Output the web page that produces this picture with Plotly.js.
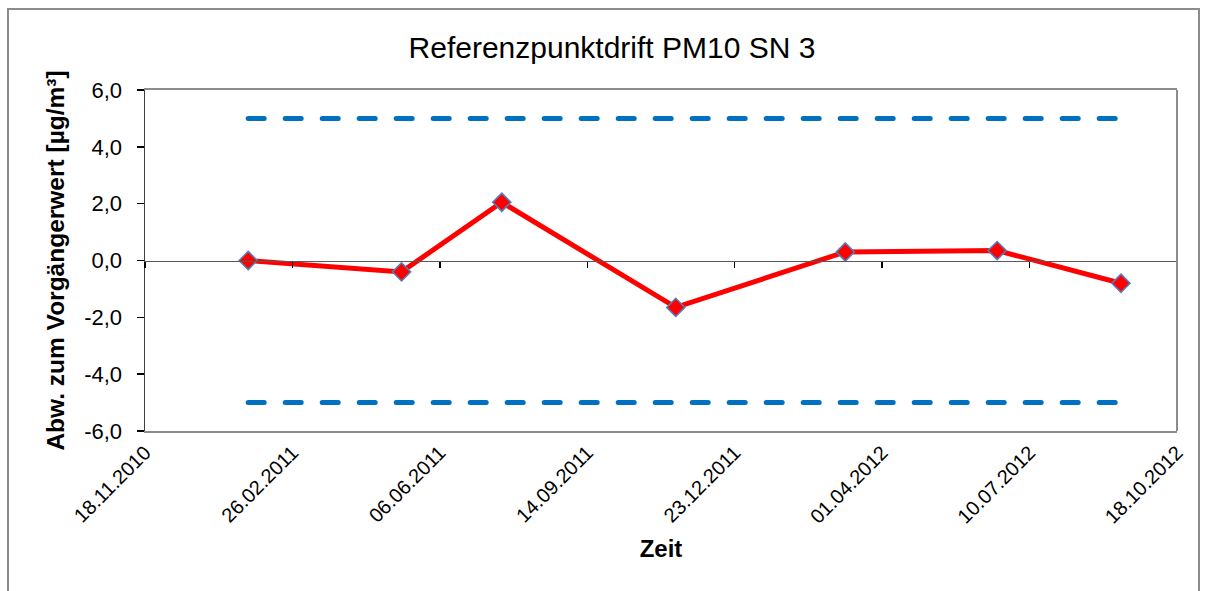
<!DOCTYPE html>
<html>
<head>
<meta charset="utf-8">
<script src="https://cdn.plot.ly/plotly-3.0.1.min.js"></script>
<style>
  html, body { margin: 0; padding: 0; background: #ffffff; }
  #chart { position: absolute; left: 0; top: 0; width: 1208px; height: 591px; }
  #frame { position: absolute; left: 7px; top: 8px; width: 1193px; height: 600px;
           border: 2px solid #8c8c8c; pointer-events: none; box-sizing: border-box; }
  .scatterlayer .js-line { stroke-linecap: round; }
</style>
</head>
<body>
<div id="chart"></div>
<div id="frame"></div>
<script>
// Data
const dates = ['2011-01-27', '2011-05-11', '2011-07-18', '2011-11-13', '2012-03-07', '2012-06-18', '2012-09-10'];
const drift = [0.0, -0.4, 2.05, -1.65, 0.3, 0.35, -0.8];
const upperLimit = [5, 5];
const lowerLimit = [-5, -5];
const limitDates = [dates[0], dates[dates.length - 1]];
const xRange = ['2010-11-18', '2012-10-18'];
const yTicks = [-6, -4, -2, 0, 2, 4, 6];
const yTickLabels = ['-6,0', '-4,0', '-2,0', '0,0', '2,0', '4,0', '6,0'];

const DAY = 86400000;

const traces = [
  {
    x: limitDates, y: upperLimit, type: 'scatter', mode: 'lines',
    line: { color: '#0070C0', width: 5, dash: '16px,21px' },
    hoverinfo: 'skip', showlegend: false
  },
  {
    x: limitDates, y: lowerLimit, type: 'scatter', mode: 'lines',
    line: { color: '#0070C0', width: 5, dash: '16px,21px' },
    hoverinfo: 'skip', showlegend: false
  },
  {
    x: dates, y: drift, type: 'scatter', mode: 'lines+markers',
    line: { color: '#FF0000', width: 5 },
    marker: { symbol: 'diamond', size: 14, color: '#FF0000', line: { color: '#4F81BD', width: 1.5 } },
    showlegend: false
  },
  // invisible trace on xaxis2 so the zero-crossing axis with tick marks is drawn
  { x: limitDates, y: [0, 0], xaxis: 'x2', type: 'scatter', mode: 'none', hoverinfo: 'skip', showlegend: false }
];

const layout = {
  width: 1208, height: 591,
  paper_bgcolor: '#ffffff', plot_bgcolor: '#ffffff',
  margin: { l: 145, r: 31, t: 90, b: 160 },
  separators: ',.',
  font: { family: 'Liberation Sans, Arial, sans-serif', color: '#000000' },
  showlegend: false,
  title: {
    text: 'Referenzpunktdrift PM10 SN 3',
    font: { size: 30, color: '#000000' },
    x: 0.4525, xref: 'paper', xanchor: 'center',
    y: 0.92, yanchor: 'middle'
  },
  xaxis: {
    type: 'date', range: xRange,
    tick0: xRange[0], dtick: 100 * DAY,
    tickformat: '%d.%m.%Y', tickangle: -45,
    tickfont: { size: 20 },
    ticks: '', showgrid: false, zeroline: false,
    showline: true, linecolor: '#8c8c8c', linewidth: 2, mirror: true,
    title: { text: 'Zeit', font: { size: 24, weight: 'bold' }, standoff: 14 },
    automargin: false
  },
  xaxis2: {
    type: 'date', range: xRange, overlaying: 'x', anchor: 'free', position: 0.5, side: 'bottom',
    tick0: xRange[0], dtick: 100 * DAY,
    showticklabels: false, ticks: 'outside', ticklen: 6, tickcolor: '#000000', tickwidth: 1.5,
    showgrid: false, zeroline: false,
    showline: true, linecolor: '#595959', linewidth: 1.5
  },
  yaxis: {
    range: [-6, 6], tickvals: yTicks, ticktext: yTickLabels,
    tickfont: { size: 22 },
    ticks: 'outside', ticklen: 7, tickcolor: '#000000', tickwidth: 1.5,
    ticklabelstandoff: 10,
    showgrid: false, zeroline: false,
    showline: true, linecolor: '#404040', linewidth: 1.5,
    title: { text: 'Abw. zum Vorgängerwert [µg/m³]', font: { size: 24.5, weight: 'bold' }, standoff: 12 },
    automargin: false
  },
  shapes: [
    { type: 'line', xref: 'paper', yref: 'paper', x0: 1, x1: 1, y0: 0, y1: 1,
      line: { color: '#8c8c8c', width: 2 } }
  ]
};

Plotly.newPlot('chart', traces, layout, { displayModeBar: false, staticPlot: true });
</script>
</body>
</html>
